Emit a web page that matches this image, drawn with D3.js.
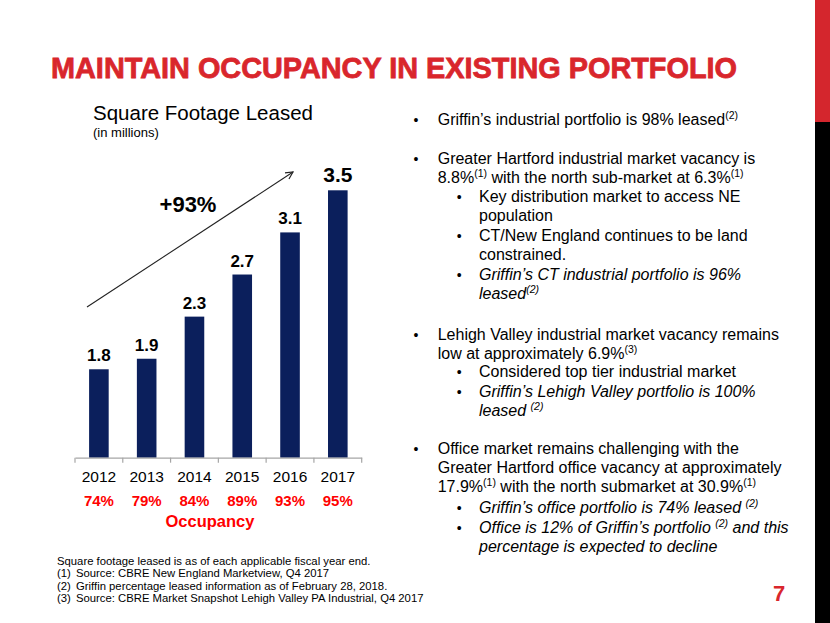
<!DOCTYPE html>
<html><head><meta charset="utf-8">
<script src="https://cdn.jsdelivr.net/npm/d3@7"></script>
<style>body{margin:0;background:#fff}svg{display:block}text{font-family:"Liberation Sans",Arial,sans-serif}</style>
</head><body><svg id="c" width="830" height="623"></svg>
<script>
const years = ["2012","2013","2014","2015","2016","2017"];
const sqft = [1.8, 1.9, 2.3, 2.7, 3.1, 3.5];
const occupancy = ["74%","79%","84%","89%","93%","95%"];
const growthLabel = "+93%";
const titleText = "MAINTAIN OCCUPANCY IN EXISTING PORTFOLIO";
const bullets = [
  {lvl:0, y:125, segs:[["Griffin’s industrial portfolio is 98% leased"],["(2)",1]]},
  {lvl:0, y:163.5, segs:[["Greater Hartford industrial market vacancy is"]]},
  {lvl:-1, y:183, segs:[["8.8%"],["(1)",1],[" with the north sub-market at 6.3%"],["(1)",1]]},
  {lvl:1, y:202, segs:[["Key distribution market to access NE"]]},
  {lvl:-2, y:221, segs:[["population"]]},
  {lvl:1, y:240.5, segs:[["CT/New England continues to be land"]]},
  {lvl:-2, y:259.5, segs:[["constrained."]]},
  {lvl:1, y:279.5, it:1, segs:[["Griffin’s CT industrial portfolio is 96%"]]},
  {lvl:-2, y:298.5, it:1, segs:[["leased"],["(2)",1]]},
  {lvl:0, y:339.5, segs:[["Lehigh Valley industrial market vacancy remains"]]},
  {lvl:-1, y:358.5, segs:[["low at approximately 6.9%"],["(3)",1]]},
  {lvl:1, y:377, segs:[["Considered top tier industrial market"]]},
  {lvl:1, y:396.5, it:1, segs:[["Griffin’s Lehigh Valley portfolio is 100%"]]},
  {lvl:-2, y:415.5, it:1, segs:[["leased "],["(2)",1]]},
  {lvl:0, y:453.5, segs:[["Office market remains challenging with the"]]},
  {lvl:-1, y:473, segs:[["Greater Hartford office vacancy at approximately"]]},
  {lvl:-1, y:492, segs:[["17.9%"],["(1)",1],[" with the north submarket at 30.9%"],["(1)",1]]},
  {lvl:1, y:513, it:1, segs:[["Griffin’s office portfolio is 74% leased "],["(2)",1]]},
  {lvl:1, y:532.5, it:1, segs:[["Office is 12% of Griffin’s portfolio "],["(2)",1],[" and this"]]},
  {lvl:-2, y:552, it:1, segs:[["percentage is expected to decline"]]}
];
const footnotes = [
  ["", "Square footage leased is as of each applicable fiscal year end."],
  ["(1)", "Source:  CBRE New England Marketview, Q4 2017"],
  ["(2)", "Griffin percentage leased information as of February 28, 2018."],
  ["(3)", "Source:  CBRE Market Snapshot Lehigh Valley PA Industrial, Q4 2017"]
];

const svg = d3.select("#c");
// side strip
svg.append("rect").attr("x",815).attr("y",0).attr("width",15).attr("height",122).attr("fill","#d4262d");
svg.append("rect").attr("x",815).attr("y",122).attr("width",15).attr("height",501).attr("fill","#000");

// title
svg.append("text").attr("x",51).attr("y",78).attr("fill","#d9262c")
  .attr("font-family","'Liberation Sans Narrow','Arial Narrow',sans-serif").attr("font-weight","bold")
  .attr("font-size",30).attr("stroke","#d9262c").attr("stroke-width",0.8)
  .attr("textLength",686).attr("lengthAdjust","spacingAndGlyphs").text(titleText);

// chart titles
svg.append("text").attr("x",93).attr("y",120).attr("font-size",20.5).attr("fill","#000").text("Square Footage Leased");
svg.append("text").attr("x",93).attr("y",137).attr("font-size",13).attr("fill","#000").text("(in millions)");

const x = d3.scaleBand().domain(years).range([75, 361.7]).padding(0);
const y = d3.scaleLinear().domain([0.96, 3.5]).range([457.7, 190.3]);
const bw = x.bandwidth()*0.41;

svg.append("g").selectAll("rect").data(sqft).join("rect")
  .attr("x",(d,i)=>x(years[i])+x.bandwidth()/2-bw/2).attr("width",bw)
  .attr("y",d=>y(d)).attr("height",d=>y.range()[0]-y(d)).attr("fill","#0b1f5c");

svg.append("g").selectAll("text").data(sqft).join("text")
  .attr("x",(d,i)=>x(years[i])+x.bandwidth()/2).attr("y",d=>y(d)-8)
  .attr("text-anchor","middle").attr("font-weight","bold")
  .attr("font-size",(d,i)=>i===sqft.length-1?21:17).attr("fill","#000").text(d=>d.toFixed(1));

// axis
const axis = svg.append("g").attr("transform",`translate(0,${y.range()[0]})`)
  .call(d3.axisBottom(x).tickSize(0).tickFormat(""));
axis.select(".domain").attr("stroke","#a6a6a6").attr("stroke-width",1.2);
const ticksAt = years.map(yr=>x(yr)).concat([x.range()[1]]);
svg.append("g").selectAll("line").data(ticksAt).join("line")
  .attr("x1",d=>d).attr("x2",d=>d).attr("y1",y.range()[0]).attr("y2",y.range()[0]+5)
  .attr("stroke","#a6a6a6").attr("stroke-width",1.2);

svg.append("g").selectAll("text").data(years).join("text")
  .attr("x",d=>x(d)+x.bandwidth()/2).attr("y",481.5).attr("text-anchor","middle")
  .attr("font-size",15.5).attr("fill","#000").text(d=>d);
svg.append("g").selectAll("text").data(occupancy).join("text")
  .attr("x",(d,i)=>x(years[i])+x.bandwidth()/2).attr("y",506).attr("text-anchor","middle")
  .attr("font-size",15).attr("font-weight","bold").attr("fill","#ff0000").text(d=>d);
svg.append("text").attr("x",210).attr("y",527).attr("text-anchor","middle")
  .attr("font-size",16.5).attr("font-weight","bold").attr("fill","#ff0000").text("Occupancy");

// growth arrow
svg.append("defs").append("marker").attr("id","ah").attr("viewBox","0 0 10 10").attr("refX",9).attr("refY",5)
  .attr("markerWidth",9).attr("markerHeight",9).attr("markerUnits","userSpaceOnUse").attr("orient","auto")
  .append("path").attr("d","M1,1 L9,5 L1,9").attr("fill","none").attr("stroke","#222").attr("stroke-width",1.3);
svg.append("line").attr("x1",87).attr("y1",307).attr("x2",293).attr("y2",172)
  .attr("stroke","#222").attr("stroke-width",1.1).attr("marker-end","url(#ah)");
svg.append("text").attr("x",188).attr("y",211.5).attr("text-anchor","middle")
  .attr("font-size",22).attr("font-weight","bold").attr("fill","#000").text(growthLabel);

// bullets
const bx = {0:437.7, "-1":437.7, 1:479, "-2":479};
const dotx = {0:413.5, 1:456.7};
const bg = svg.append("g");
bullets.forEach(b=>{
  if (b.lvl===0 || b.lvl===1) {
    bg.append("text").attr("x",dotx[b.lvl]).attr("y",b.y).attr("font-size",14).attr("fill","#000").text("•");
  }
  const t = bg.append("text").attr("x",bx[b.lvl]).attr("y",b.y).attr("font-size",16).attr("fill","#000")
    .attr("font-style",b.it?"italic":"normal");
  let raised = false;
  b.segs.forEach(s=>{
    if (s[1]) { t.append("tspan").attr("font-size",10.5).attr("dy",-6).text(s[0]); raised = true; }
    else { t.append("tspan").attr("dy", raised ? 6 : 0).text(s[0]); raised = false; }
  });
});

// footnotes
const fg = svg.append("g");
footnotes.forEach((f,i)=>{
  const yy = 565 + i*12.3;
  if (f[0]) {
    fg.append("text").attr("x",57).attr("y",yy).attr("font-size",11.3).attr("fill","#000").text(f[0]);
    fg.append("text").attr("x",76).attr("y",yy).attr("font-size",11.3).attr("fill","#000").text(f[1]);
  } else fg.append("text").attr("x",57).attr("y",yy).attr("font-size",11.3).attr("fill","#000").text(f[1]);
});

svg.append("text").attr("x",779).attr("y",601).attr("text-anchor","middle").attr("font-size",22)
  .attr("font-weight","bold").attr("fill","#d9262c").text("7");
</script></body></html>
